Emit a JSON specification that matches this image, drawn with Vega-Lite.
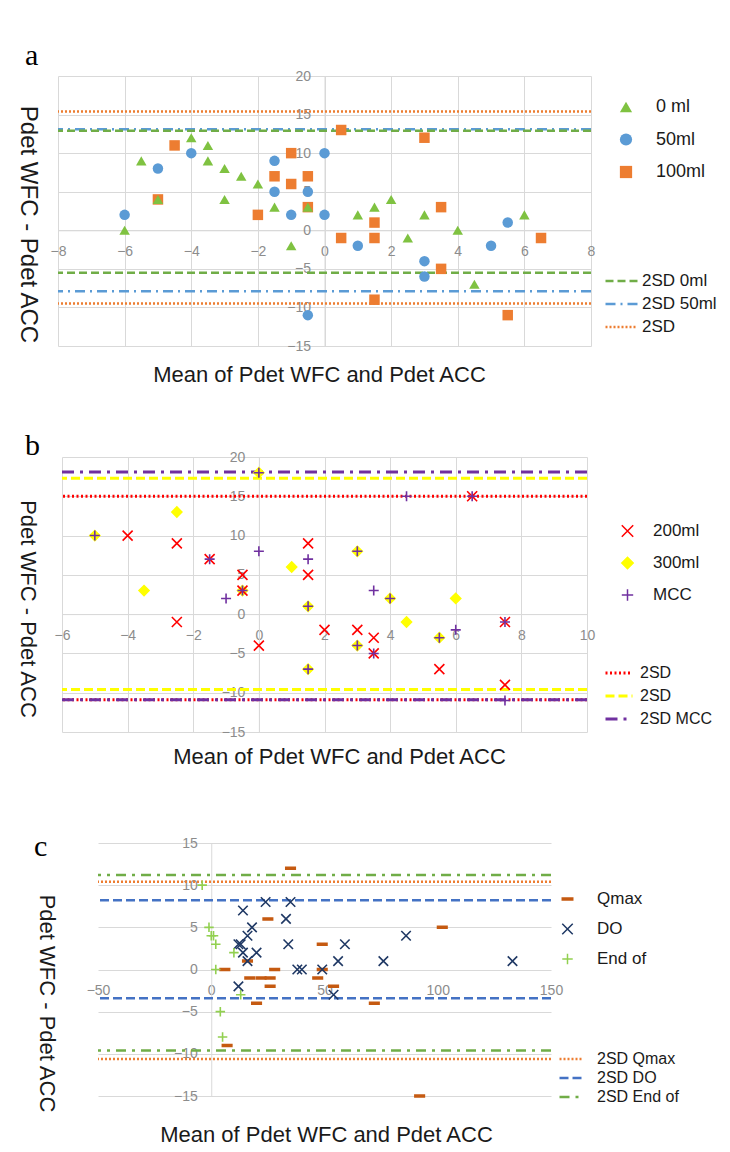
{
  "$schema": "https://vega.github.io/schema/vega-lite/v6.json",
  "background": "white",
  "padding": {"left": 15, "top": 41, "right": 5, "bottom": 5},
  "spacing": 111,
  "bounds": "flush",
  "center": true,
  "resolve": {"scale": {"color": "independent", "fill": "independent", "stroke": "independent", "shape": "independent", "strokeDash": "independent"}},
  "vconcat": [
    {
      "width": 533, "height": 270,
      "title": {"text": "a", "anchor": "start", "frame": "group", "font": "Liberation Serif", "fontSize": 30, "fontWeight": "normal", "color": "#000000", "baseline": "alphabetic", "offset": 0, "dx": -33, "dy": 26},
      "encoding": {
        "y": {"field": "diff", "type": "quantitative", "scale": {"domain": [-15, 20], "nice": false, "zero": false},
          "axis": {"values": [-15, -10, -5, 0, 5, 10, 15, 20], "offset": -266.5, "grid": true, "title": "Pdet WFC - Pdet ACC", "titleFontSize": 24, "titleAngle": 90, "titleX": -297.5, "titleY": 148, "titleBaseline": "middle", "titleAlign": "center", "labelPadding": 14}}
      },
      "layer": [
        {
          "data": {"name": "a_lines"},
          "mark": {"type": "rule", "strokeWidth": 2.5},
          "encoding": {
            "stroke": {"field": "line", "type": "nominal", "scale": {"domain": ["2SD 0ml", "2SD 50ml", "2SD"], "range": ["#70ad47", "#5b9bd5", "#ed7d31"]},
              "legend": {"title": null, "orient": "none", "legendX": 546, "legendY": 196, "symbolType": "stroke", "symbolSize": 1024, "symbolStrokeWidth": 2.5, "clipHeight": 18, "rowPadding": 5, "labelOffset": 3, "labelFontSize": 17, "padding": 0}},
            "strokeDash": {"field": "line", "type": "nominal", "scale": {"domain": ["2SD 0ml", "2SD 50ml", "2SD"], "range": [[8, 4], [10, 5, 2, 5], [2, 2]]},
              "legend": {"title": null, "orient": "none", "legendX": 546, "legendY": 196, "symbolType": "stroke", "symbolSize": 1024, "symbolStrokeWidth": 2.5, "clipHeight": 18, "rowPadding": 5, "labelOffset": 3, "labelFontSize": 17, "padding": 0}}
          }
        },
        {
          "data": {"name": "a_pts"},
          "mark": {"type": "point", "filled": true, "opacity": 1, "size": 110},
          "encoding": {
            "x": {"field": "x", "type": "quantitative", "scale": {"domain": [-8, 8], "nice": false, "zero": false},
              "axis": {"values": [-8, -6, -4, -2, 0, 2, 4, 6, 8], "offset": -115.7, "grid": true, "labelFlush": false, "title": "Mean of Pdet WFC and Pdet ACC", "titleFontSize": 22, "titleX": 261, "titleY": 151, "titleBaseline": "alphabetic", "titleAlign": "center", "labelPadding": 14}},
            "color": {"field": "s", "type": "nominal", "scale": {"domain": ["0 ml", "50ml", "100ml"], "range": ["#7fc241", "#5b9bd5", "#ed7d31"]},
              "legend": {"title": null, "orient": "none", "legendX": 559, "legendY": 21, "clipHeight": 20, "rowPadding": 12.5, "labelOffset": 21, "labelFontSize": 18, "symbolSize": 150, "padding": 0}},
            "shape": {"field": "s", "type": "nominal", "scale": {"domain": ["0 ml", "50ml", "100ml"], "range": ["triangle-up", "circle", "square"]},
              "legend": {"title": null, "orient": "none", "legendX": 559, "legendY": 21, "clipHeight": 20, "rowPadding": 12.5, "labelOffset": 21, "labelFontSize": 18, "symbolSize": 150, "padding": 0}}
          }
        }
      ]
    },
    {
      "width": 525, "height": 275,
      "title": {"text": "b", "anchor": "start", "frame": "group", "font": "Liberation Serif", "fontSize": 30, "fontWeight": "normal", "color": "#000000", "baseline": "alphabetic", "offset": 0, "dx": -37, "dy": 35},
      "encoding": {
        "y": {"field": "diff", "type": "quantitative", "scale": {"domain": [-15, 20], "nice": false, "zero": false},
          "axis": {"values": [-15, -10, -5, 0, 5, 10, 15, 20], "offset": -196.9, "grid": true, "title": "Pdet WFC - Pdet ACC", "titleFontSize": 22, "titleAngle": 90, "titleX": -231, "titleY": 151.5, "titleBaseline": "middle", "titleAlign": "center", "labelPadding": 14}}
      },
      "layer": [
        {
          "data": {"name": "b_lines"},
          "mark": {"type": "rule", "strokeWidth": 3},
          "encoding": {
            "stroke": {"field": "line", "type": "nominal", "scale": {"domain": ["2SD 200ml", "2SD 300ml", "2SD MCC"], "range": ["#ff0000", "#ffff00", "#7030a0"]},
              "legend": {"title": null, "orient": "none", "legendX": 542, "legendY": 207, "symbolType": "stroke", "symbolSize": 729, "symbolStrokeWidth": 3, "clipHeight": 18, "rowPadding": 5, "labelOffset": 6, "labelFontSize": 16, "padding": 0, "labelExpr": "datum.label == '2SD MCC' ? '2SD MCC' : '2SD'"}},
            "strokeDash": {"field": "line", "type": "nominal", "scale": {"domain": ["2SD 200ml", "2SD 300ml", "2SD MCC"], "range": [[2, 2.5], [9, 4], [12, 6, 3, 6]]},
              "legend": {"title": null, "orient": "none", "legendX": 542, "legendY": 207, "symbolType": "stroke", "symbolSize": 729, "symbolStrokeWidth": 3, "clipHeight": 18, "rowPadding": 5, "labelOffset": 6, "labelFontSize": 16, "padding": 0, "labelExpr": "datum.label == '2SD MCC' ? '2SD MCC' : '2SD'"}}
          }
        },
        {
          "data": {"name": "b_pts"},
          "mark": {"type": "point", "filled": false, "opacity": 1, "size": 100, "strokeWidth": 1.6},
          "encoding": {
            "x": {"field": "x", "type": "quantitative", "scale": {"domain": [-6, 10], "nice": false, "zero": false},
              "axis": {"values": [-6, -4, -2, 0, 2, 4, 6, 8, 10], "offset": -117.9, "grid": true, "labelFlush": false, "title": "Mean of Pdet WFC and Pdet ACC", "titleFontSize": 22, "titleX": 277, "titleY": 149, "titleBaseline": "alphabetic", "titleAlign": "center", "labelPadding": 14}},
            "color": {"field": "s", "type": "nominal", "scale": {"domain": ["200ml", "300ml", "MCC"], "range": ["#ff0000", "#ffff00", "#7030a0"]},
              "legend": {"title": null, "orient": "none", "legendX": 557, "legendY": 64, "clipHeight": 20, "rowPadding": 12, "labelOffset": 17, "labelFontSize": 17, "symbolSize": 130, "padding": 0, "symbolFillColor": "#ffff00"}},
            "shape": {"field": "s", "type": "nominal", "scale": {"domain": ["200ml", "300ml", "MCC"], "range": ["M-1,-1L1,1M1,-1L-1,1", "diamond", "M-1,0L1,0M0,-1L0,1"]},
              "legend": {"title": null, "orient": "none", "legendX": 557, "legendY": 64, "clipHeight": 20, "rowPadding": 12, "labelOffset": 17, "labelFontSize": 17, "symbolSize": 130, "padding": 0, "symbolFillColor": "#ffff00"}},
            "fill": {"field": "s", "type": "nominal", "scale": {"domain": ["200ml", "300ml", "MCC"], "range": ["#ff0000", "#ffff00", "#7030a0"]}, "legend": null}
          }
        }
      ]
    },
    {
      "width": 453, "height": 253,
      "title": {"text": "c", "anchor": "start", "frame": "group", "font": "Liberation Serif", "fontSize": 30, "fontWeight": "normal", "color": "#000000", "baseline": "alphabetic", "offset": 0, "dx": -64, "dy": 50},
      "encoding": {
        "y": {"field": "diff", "type": "quantitative", "scale": {"domain": [-15, 15], "nice": false, "zero": false},
          "axis": {"values": [-15, -10, -5, 0, 5, 10, 15], "offset": -113.25, "grid": true, "title": "Pdet WFC - Pdet ACC", "titleFontSize": 22, "titleAngle": 90, "titleX": -165, "titleY": 160, "titleBaseline": "middle", "titleAlign": "center", "labelPadding": 14}}
      },
      "layer": [
        {
          "data": {"name": "c_lines"},
          "mark": {"type": "rule", "strokeWidth": 2.5},
          "encoding": {
            "stroke": {"field": "line", "type": "nominal", "scale": {"domain": ["2SD Qmax", "2SD DO", "2SD End of"], "range": ["#ed7d31", "#4472c4", "#70ad47"]},
              "legend": {"title": null, "orient": "none", "legendX": 460, "legendY": 208, "symbolType": "stroke", "symbolSize": 484, "symbolStrokeWidth": 2.5, "clipHeight": 16, "rowPadding": 3, "labelOffset": 14, "labelFontSize": 16, "padding": 0}},
            "strokeDash": {"field": "line", "type": "nominal", "scale": {"domain": ["2SD Qmax", "2SD DO", "2SD End of"], "range": [[2, 2], [9, 4], [10, 6, 3, 6]]},
              "legend": {"title": null, "orient": "none", "legendX": 460, "legendY": 208, "symbolType": "stroke", "symbolSize": 484, "symbolStrokeWidth": 2.5, "clipHeight": 16, "rowPadding": 3, "labelOffset": 14, "labelFontSize": 16, "padding": 0}}
          }
        },
        {
          "data": {"name": "c_pts"},
          "mark": {"type": "point", "filled": false, "opacity": 1, "size": 90, "strokeWidth": 1.6},
          "encoding": {
            "x": {"field": "x", "type": "quantitative", "scale": {"domain": [-50, 150], "nice": false, "zero": false},
              "axis": {"values": [-50, 0, 50, 100, 150], "offset": -126.5, "grid": false, "domain": false, "labelFlush": false, "title": "Mean of Pdet WFC and Pdet ACC", "titleFontSize": 22, "titleX": 228, "titleY": 171.5, "titleBaseline": "alphabetic", "titleAlign": "center", "labelPadding": 14}},
            "color": {"field": "s", "type": "nominal", "scale": {"domain": ["Qmax", "DO", "End of"], "range": ["#c55a11", "#1f3864", "#92d050"]},
              "legend": {"title": null, "orient": "none", "legendX": 461, "legendY": 46, "clipHeight": 20, "rowPadding": 10, "labelOffset": 21, "labelFontSize": 17, "symbolSize": 110, "padding": 0, "symbolFillColor": "#c55a11"}},
            "shape": {"field": "s", "type": "nominal", "scale": {"domain": ["Qmax", "DO", "End of"], "range": ["M-1,-0.2L1,-0.2L1,0.2L-1,0.2Z", "M-1,-1L1,1M1,-1L-1,1", "M-1,0L1,0M0,-1L0,1"]},
              "legend": {"title": null, "orient": "none", "legendX": 461, "legendY": 46, "clipHeight": 20, "rowPadding": 10, "labelOffset": 21, "labelFontSize": 17, "symbolSize": 110, "padding": 0, "symbolFillColor": "#c55a11"}},
            "fill": {"field": "s", "type": "nominal", "scale": {"domain": ["Qmax", "DO", "End of"], "range": ["#c55a11", "#1f3864", "#92d050"]}, "legend": null}
          }
        }
      ]
    }
  ],
  "datasets": {
    "a_lines": [
      {"line": "2SD", "diff": 15.4}, {"line": "2SD", "diff": -9.5},
      {"line": "2SD 50ml", "diff": 13.1}, {"line": "2SD 50ml", "diff": -7.9},
      {"line": "2SD 0ml", "diff": 12.9}, {"line": "2SD 0ml", "diff": -5.5}
    ],
    "a_pts": [
      {"s": "100ml", "x": -5, "diff": 4}, {"s": "100ml", "x": -4.5, "diff": 11}, {"s": "100ml", "x": -2, "diff": 2},
      {"s": "100ml", "x": -1.5, "diff": 7}, {"s": "100ml", "x": -1, "diff": 10}, {"s": "100ml", "x": -1, "diff": 6},
      {"s": "100ml", "x": -0.5, "diff": 7}, {"s": "100ml", "x": -0.5, "diff": 3}, {"s": "100ml", "x": 0.5, "diff": 13},
      {"s": "100ml", "x": 0.5, "diff": -1}, {"s": "100ml", "x": 1.5, "diff": 1}, {"s": "100ml", "x": 1.5, "diff": -1},
      {"s": "100ml", "x": 1.5, "diff": -9}, {"s": "100ml", "x": 3, "diff": 12}, {"s": "100ml", "x": 3.5, "diff": 3},
      {"s": "100ml", "x": 3.5, "diff": -5}, {"s": "100ml", "x": 5.5, "diff": -11}, {"s": "100ml", "x": 6.5, "diff": -1},
      {"s": "50ml", "x": -6, "diff": 2}, {"s": "50ml", "x": -5, "diff": 8}, {"s": "50ml", "x": -4, "diff": 10},
      {"s": "50ml", "x": -1.5, "diff": 9}, {"s": "50ml", "x": -1.5, "diff": 5}, {"s": "50ml", "x": -1, "diff": 2},
      {"s": "50ml", "x": -0.5, "diff": 5}, {"s": "50ml", "x": -0.5, "diff": -11}, {"s": "50ml", "x": 0, "diff": 10},
      {"s": "50ml", "x": 0, "diff": 2}, {"s": "50ml", "x": 1, "diff": -2}, {"s": "50ml", "x": 3, "diff": -4},
      {"s": "50ml", "x": 3, "diff": -6}, {"s": "50ml", "x": 5, "diff": -2}, {"s": "50ml", "x": 5.5, "diff": 1},
      {"s": "0 ml", "x": -6, "diff": 0}, {"s": "0 ml", "x": -5.5, "diff": 9}, {"s": "0 ml", "x": -5, "diff": 4},
      {"s": "0 ml", "x": -4, "diff": 12}, {"s": "0 ml", "x": -3.5, "diff": 11}, {"s": "0 ml", "x": -3.5, "diff": 9},
      {"s": "0 ml", "x": -3, "diff": 8}, {"s": "0 ml", "x": -3, "diff": 4}, {"s": "0 ml", "x": -2.5, "diff": 7},
      {"s": "0 ml", "x": -2, "diff": 6}, {"s": "0 ml", "x": -1.5, "diff": 3}, {"s": "0 ml", "x": -1, "diff": -2},
      {"s": "0 ml", "x": -0.5, "diff": 3}, {"s": "0 ml", "x": 1, "diff": 2}, {"s": "0 ml", "x": 1.5, "diff": 3},
      {"s": "0 ml", "x": 2, "diff": 4}, {"s": "0 ml", "x": 2.5, "diff": -1}, {"s": "0 ml", "x": 3, "diff": 2},
      {"s": "0 ml", "x": 4, "diff": 0}, {"s": "0 ml", "x": 4.5, "diff": -7}, {"s": "0 ml", "x": 6, "diff": 2}
    ],
    "b_lines": [
      {"line": "2SD 200ml", "diff": 15}, {"line": "2SD 200ml", "diff": -10.9},
      {"line": "2SD 300ml", "diff": 17.3}, {"line": "2SD 300ml", "diff": -9.6},
      {"line": "2SD MCC", "diff": 18.1}, {"line": "2SD MCC", "diff": -10.9}
    ],
    "b_pts": [
      {"s": "300ml", "x": -5, "diff": 10}, {"s": "300ml", "x": -3.5, "diff": 3}, {"s": "300ml", "x": -2.5, "diff": 13},
      {"s": "300ml", "x": -0.5, "diff": 3}, {"s": "300ml", "x": 0, "diff": 18}, {"s": "300ml", "x": 1, "diff": 6},
      {"s": "300ml", "x": 1.5, "diff": 1}, {"s": "300ml", "x": 1.5, "diff": -7}, {"s": "300ml", "x": 3, "diff": 8},
      {"s": "300ml", "x": 3, "diff": -4}, {"s": "300ml", "x": 4, "diff": 2}, {"s": "300ml", "x": 4.5, "diff": -1},
      {"s": "300ml", "x": 5.5, "diff": -3}, {"s": "300ml", "x": 6, "diff": 2},
      {"s": "200ml", "x": -4, "diff": 10}, {"s": "200ml", "x": -2.5, "diff": 9}, {"s": "200ml", "x": -2.5, "diff": -1},
      {"s": "200ml", "x": -1.5, "diff": 7}, {"s": "200ml", "x": -0.5, "diff": 5}, {"s": "200ml", "x": -0.5, "diff": 3},
      {"s": "200ml", "x": 0, "diff": -4}, {"s": "200ml", "x": 1.5, "diff": 9}, {"s": "200ml", "x": 1.5, "diff": 5},
      {"s": "200ml", "x": 2, "diff": -2}, {"s": "200ml", "x": 3, "diff": -2}, {"s": "200ml", "x": 3.5, "diff": -3},
      {"s": "200ml", "x": 3.5, "diff": -5}, {"s": "200ml", "x": 5.5, "diff": -7}, {"s": "200ml", "x": 6.5, "diff": 15},
      {"s": "200ml", "x": 7.5, "diff": -1}, {"s": "200ml", "x": 7.5, "diff": -9},
      {"s": "MCC", "x": -5, "diff": 10}, {"s": "MCC", "x": -1.5, "diff": 7}, {"s": "MCC", "x": -1, "diff": 2},
      {"s": "MCC", "x": -0.5, "diff": 3}, {"s": "MCC", "x": 0, "diff": 18}, {"s": "MCC", "x": 0, "diff": 8},
      {"s": "MCC", "x": 1.5, "diff": 7}, {"s": "MCC", "x": 1.5, "diff": 1}, {"s": "MCC", "x": 1.5, "diff": -7},
      {"s": "MCC", "x": 3, "diff": 8}, {"s": "MCC", "x": 3, "diff": -4}, {"s": "MCC", "x": 3.5, "diff": 3},
      {"s": "MCC", "x": 3.5, "diff": -5}, {"s": "MCC", "x": 4, "diff": 2}, {"s": "MCC", "x": 4.5, "diff": 15},
      {"s": "MCC", "x": 5.5, "diff": -3}, {"s": "MCC", "x": 6, "diff": -2}, {"s": "MCC", "x": 6.5, "diff": 15},
      {"s": "MCC", "x": 7.5, "diff": -1}, {"s": "MCC", "x": 7.5, "diff": -11}
    ],
    "c_lines": [
      {"line": "2SD Qmax", "diff": 10.4}, {"line": "2SD Qmax", "diff": -10.6},
      {"line": "2SD DO", "diff": 8.2}, {"line": "2SD DO", "diff": -3.4},
      {"line": "2SD End of", "diff": 11.2}, {"line": "2SD End of", "diff": -9.6}
    ],
    "c_pts": [
      {"s": "Qmax", "x": 35, "diff": 12}, {"s": "Qmax", "x": 25, "diff": 6}, {"s": "Qmax", "x": 16, "diff": 1},
      {"s": "Qmax", "x": 6, "diff": 0}, {"s": "Qmax", "x": 28, "diff": 0}, {"s": "Qmax", "x": 17, "diff": -1},
      {"s": "Qmax", "x": 22, "diff": -1}, {"s": "Qmax", "x": 26, "diff": -1}, {"s": "Qmax", "x": 26, "diff": -2},
      {"s": "Qmax", "x": 20, "diff": -4}, {"s": "Qmax", "x": 7, "diff": -9}, {"s": "Qmax", "x": 49, "diff": 3},
      {"s": "Qmax", "x": 47, "diff": -1}, {"s": "Qmax", "x": 49, "diff": 0}, {"s": "Qmax", "x": 54, "diff": -2},
      {"s": "Qmax", "x": 72, "diff": -4}, {"s": "Qmax", "x": 102, "diff": 5}, {"s": "Qmax", "x": 92, "diff": -15},
      {"s": "DO", "x": 24, "diff": 8}, {"s": "DO", "x": 35, "diff": 8}, {"s": "DO", "x": 14, "diff": 7},
      {"s": "DO", "x": 33, "diff": 6}, {"s": "DO", "x": 18, "diff": 5}, {"s": "DO", "x": 16, "diff": 4},
      {"s": "DO", "x": 12, "diff": 3}, {"s": "DO", "x": 13, "diff": 3}, {"s": "DO", "x": 14, "diff": 2},
      {"s": "DO", "x": 16, "diff": 1}, {"s": "DO", "x": 20, "diff": 2}, {"s": "DO", "x": 34, "diff": 3},
      {"s": "DO", "x": 12, "diff": -2}, {"s": "DO", "x": 38, "diff": 0}, {"s": "DO", "x": 40, "diff": 0},
      {"s": "DO", "x": 49, "diff": 0}, {"s": "DO", "x": 59, "diff": 3}, {"s": "DO", "x": 56, "diff": 1},
      {"s": "DO", "x": 54, "diff": -3}, {"s": "DO", "x": 76, "diff": 1}, {"s": "DO", "x": 86, "diff": 4},
      {"s": "DO", "x": 133, "diff": 1},
      {"s": "End of", "x": -4, "diff": 10}, {"s": "End of", "x": -1, "diff": 5}, {"s": "End of", "x": 0, "diff": 4},
      {"s": "End of", "x": 1, "diff": 4}, {"s": "End of", "x": 2, "diff": 3}, {"s": "End of", "x": 10, "diff": 2},
      {"s": "End of", "x": 2, "diff": 0}, {"s": "End of", "x": 13, "diff": -3}, {"s": "End of", "x": 4, "diff": -5},
      {"s": "End of", "x": 5, "diff": -8}
    ]
  },
  "config": {
    "view": {"stroke": null},
    "axis": {
      "labelFont": "Liberation Sans", "labelFontSize": 14, "labelColor": "#8c8c8c",
      "ticks": false, "gridColor": "#d9d9d9", "gridWidth": 1, "domainColor": "#d9d9d9", "domainWidth": 1,
      "titleFont": "Liberation Sans", "titleFontSize": 22, "titleFontWeight": "normal", "titleColor": "#1a1a1a"
    },
    "legend": {"labelFont": "Liberation Sans", "labelColor": "#1a1a1a", "labelLimit": 200}
  }
}
